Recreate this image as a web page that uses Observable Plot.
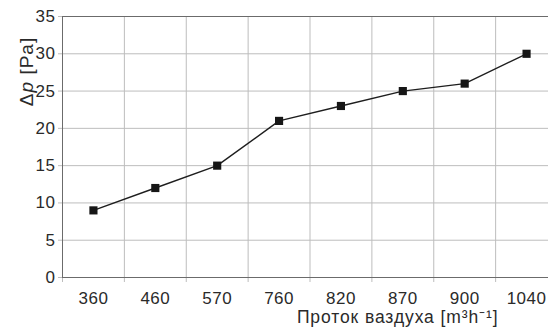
<!DOCTYPE html>
<html>
<head>
<meta charset="utf-8">
<script src="https://cdn.jsdelivr.net/npm/d3@7"></script>
<script src="https://cdn.jsdelivr.net/npm/@observablehq/plot@0.6"></script>
<style>
  html, body { margin: 0; padding: 0; background: #fff; }
  .xtitle text { letter-spacing: 0.9px; }
  .ylabel text { letter-spacing: 1px; }
  .ticklbl text { letter-spacing: 0.5px; }
</style>
</head>
<body>
<div id="chart"></div>
<script>
const categories = ["360", "460", "570", "760", "820", "870", "900", "1040"];
const values = [9, 12, 15, 21, 23, 25, 26, 30];
const yTicks = [0, 5, 10, 15, 20, 25, 30, 35];
const xLabel = "Проток ваздуха [m³h⁻¹]";
const yLabel = "Δp [Pa]";

const data = categories.map((c, i) => ({flow: c, dp: values[i]}));

const left = 62, right = 557;
const bw = (right - left) / categories.length;
const font = "'Liberation Sans', Arial, Helvetica, sans-serif";

const chart = Plot.plot({
  width: 548,
  height: 334,
  marginLeft: 62,
  marginTop: 16,
  marginRight: 0,
  marginBottom: 57,
  style: {fontFamily: font, fontSize: "17px", color: "#2a2a2a", background: "#fff", overflow: "hidden"},
  x: {type: "band", domain: categories, range: [left, right], padding: 0, round: false},
  y: {domain: [0, 35], range: [277, 16]},
  marks: [
    Plot.ruleY(yTicks, {stroke: "#bdbdbd", strokeWidth: 1, insetLeft: -4}),
    Plot.ruleX(categories, {dx: -bw / 2, stroke: "#bdbdbd", strokeWidth: 1, insetBottom: -5}),
    Plot.ruleY([0, 35], {stroke: "#6b6b6b", strokeWidth: 1}),
    Plot.ruleX([categories[0]], {dx: -bw / 2, stroke: "#6b6b6b", strokeWidth: 1}),
    Plot.axisY(yTicks, {tickSize: 0, tickPadding: 7, label: null, fontSize: 17, className: "ticklbl"}),
    Plot.axisX({tickSize: 0, tickPadding: 14.5, label: null, fontSize: 17, className: "ticklbl"}),
    Plot.line(data, {x: "flow", y: "dp", stroke: "#1e1e1e", strokeWidth: 1.4}),
    Plot.dot(data, {x: "flow", y: "dp", symbol: "square", r: 4.6, fill: "#161616", stroke: "none"}),
    Plot.text([xLabel], {frameAnchor: "bottom-right", dx: -50, dy: 45.5, textAnchor: "end", fontSize: 17.5, fill: "#2a2a2a", className: "xtitle"}),
    Plot.text([yLabel], {frameAnchor: "top-left", dx: -43, dy: 55, rotate: -90, textAnchor: "middle", fontSize: 19, fill: "#2a2a2a", className: "ylabel"})
  ]
});

// italicize the "p" in the y label
d3.select(chart).selectAll(".ylabel text").each(function() {
  const t = d3.select(this);
  t.text(null);
  t.append("tspan").text("Δ");
  t.append("tspan").attr("font-style", "italic").text("p");
  t.append("tspan").text(" [Pa]");
});

document.getElementById("chart").appendChild(chart);
</script>
</body>
</html>
